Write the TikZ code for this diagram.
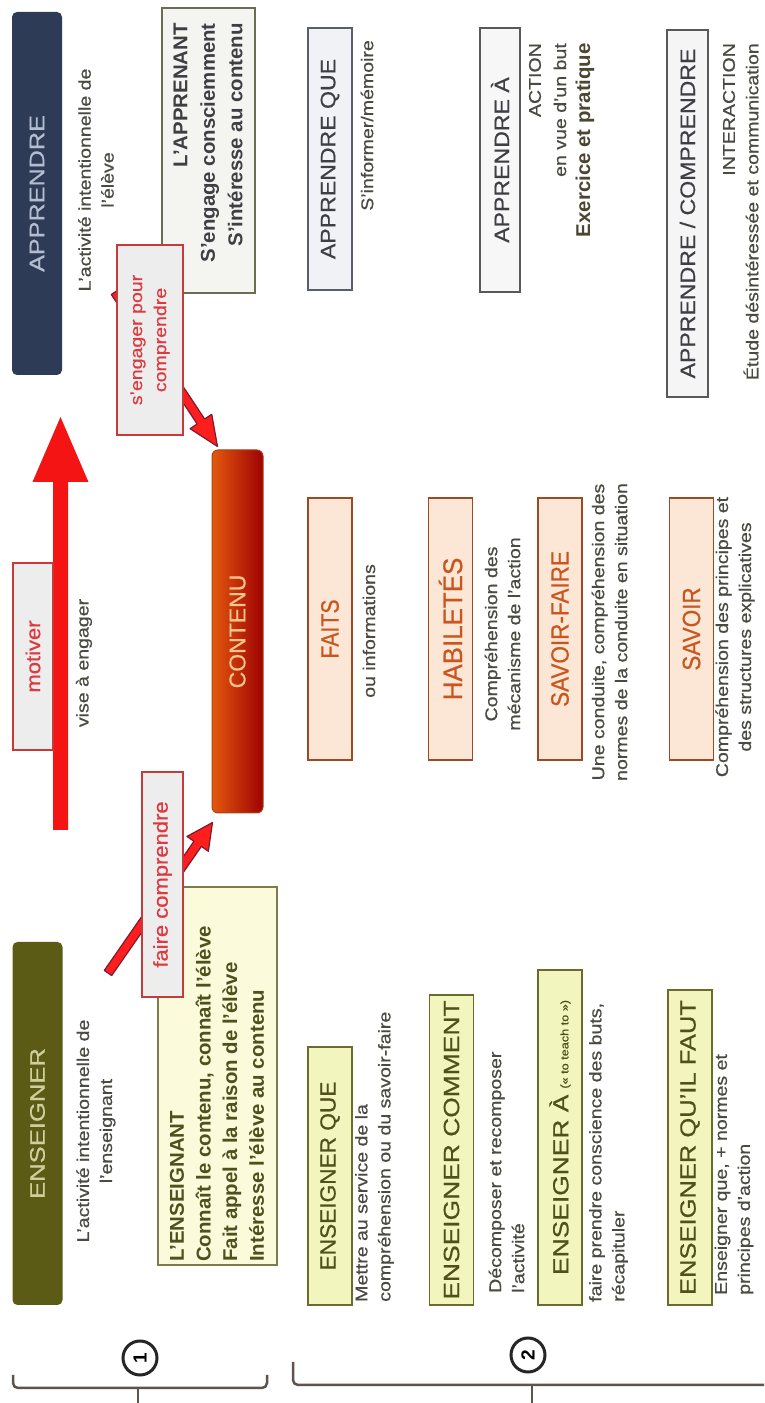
\documentclass[tikz,border=0pt]{standalone}
\usepackage{fontspec}
\usepackage{graphicx}
\setmainfont{Liberation Sans}
\newfontfamily\fh{Liberation Sans}[FakeBold=0.5,Ligatures=TeX]
\newfontfamily\fd{Liberation Sans}[FakeStretch=1.15,FakeBold=0.6,Ligatures=TeX]
\newfontfamily\fbx{Liberation Sans Bold}[FakeStretch=1.02,Ligatures=TeX]
\usetikzlibrary{calc}

% heading text: size, horizontal stretch, text
\newcommand\hd[3]{{\fh\fontsize{#1}{#1}\selectfont\scalebox{#2}[1]{#3}}}
% filled arrow: style, tail, tip, half shaft, half head, head length
\newcommand\thickarrow[6]{%
  \coordinate (ah) at ($(#3)!#6!(#2)$);
  \path[#1] ($(#2)!#4!90:(#3)$) -- ($(ah)!#4!90:(#3)$) -- ($(ah)!#5!90:(#3)$) -- (#3)
    -- ($(ah)!#5!-90:(#3)$) -- ($(ah)!#4!-90:(#3)$) -- ($(#2)!#4!-90:(#3)$) -- cycle;}

\definecolor{ensfill}{HTML}{5B5B16}
\definecolor{enstext}{HTML}{CFCF9C}
\definecolor{appfill}{HTML}{2D3B56}
\definecolor{apptext}{HTML}{B4BDD0}
\definecolor{desccol}{HTML}{4A4A42}
\definecolor{olivetext}{HTML}{4F501C}
\definecolor{yelfill}{HTML}{FBFADB}
\definecolor{yelborder}{HTML}{7C7C4C}
\definecolor{greenfill}{HTML}{F2F5BE}
\definecolor{greenborder}{HTML}{6A6B2C}
\definecolor{peachfill}{HTML}{FCE7D6}
\definecolor{peachborder}{HTML}{9B4A24}
\definecolor{peachtext}{HTML}{C8561E}
\definecolor{greyfill}{HTML}{F1F2F6}
\definecolor{greyborder}{HTML}{5A5E6C}
\definecolor{greytext}{HTML}{3E3E44}
\definecolor{labfill}{HTML}{EDEDED}
\definecolor{labborder}{HTML}{C53A3A}
\definecolor{labtext}{HTML}{DC3A40}
\definecolor{bigred}{HTML}{F41414}
\definecolor{arrred}{HTML}{FF1E1E}
\definecolor{arrdark}{HTML}{7E1A30}
\definecolor{contdark}{HTML}{9E0202}
\definecolor{contorange}{HTML}{E4580E}
\definecolor{contborder}{HTML}{A84418}
\definecolor{conttext}{HTML}{F7C48E}
\definecolor{brk}{HTML}{5E544C}
\definecolor{apprfill}{HTML}{F4F4F1}
\definecolor{apprborder}{HTML}{6C6C50}
\definecolor{practext}{HTML}{4C4630}

\begin{document}
\begin{tikzpicture}[x=1pt,y=1pt,rotate=90,transform shape,
  desc/.style={font=\fd\fontsize{17}{23}\selectfont, text=desccol, inner sep=0pt},
  boxtext/.style={font=\fbx\fontsize{20}{26.7}\selectfont, inner sep=0pt},
  redlab/.style={draw=labborder, fill=labfill, line width=1.5pt, text=labtext, inner sep=0pt},
  ensbox/.style={draw=greenborder, fill=greenfill, line width=1.5pt, text=olivetext, inner sep=0pt, minimum height=44pt},
  savbox/.style={draw=peachborder, fill=peachfill, line width=1.5pt, text=peachtext, inner sep=0pt, minimum height=44pt, minimum width=262pt},
  appbox/.style={draw=greyborder, fill=greyfill, line width=1.5pt, text=greytext, inner sep=0pt},
  topbox/.style={rounded corners=5pt, inner sep=0pt, minimum width=363pt, minimum height=50pt},
  bracestroke/.style={draw=brk, line width=2.5pt, rounded corners=5pt},
  numcirc/.style={circle, draw=black!85, line width=3pt, minimum size=34pt, inner sep=0pt, font=\bfseries\fontsize{19}{19}\selectfont},
  fatred/.style={fill=arrred, draw=arrdark, line width=1.2pt, line join=round}]

\fill[white] (0,0) rectangle (1403,-764);
\useasboundingbox (0,0) rectangle (1403,-764);

% ---- main arrow: motiver ----
\coordinate (mtail) at (573,-60.5);
\coordinate (mtip) at (986,-60.5);
\thickarrow{fill=bigred}{mtail}{mtip}{7.5pt}{28pt}{65pt}

% ---- the two activities ----
\node[topbox, fill=ensfill, text=enstext] (ens) at (279.5,-37.5) {\hd{21}{1.22}{ENSEIGNER}};
\node[topbox, fill=appfill, text=apptext] (app) at (1209.5,-37) {\hd{21}{1.2}{APPRENDRE}};
\node[desc, align=center] (ensd) at (272,-96) {L'activité intentionnelle de\\l'enseignant};
\node[desc, align=center] (appd) at (1223,-96) {L'activité intentionnelle de\\l'élève};
\node[desc] (vise) at (740,-84) {vise à engager};

% ---- teacher / learner ----
\node[draw=yelborder, fill=yelfill, line width=1.5pt, minimum width=378pt, minimum height=119pt] (ensbox) at (327,-217.5) {};
\node[boxtext, text=olivetext, anchor=west, align=left] (enst) at (141,-217) {L'ENSEIGNANT\\Connaît le contenu, connaît l'élève\\Fait appel à la raison de l'élève\\Intéresse l'élève au contenu};
\node[draw=apprborder, fill=apprfill, line width=1.5pt, minimum width=285pt, minimum height=93pt] (appbox) at (1252.5,-208.5) {};
\node[boxtext, text=greytext, anchor=east, align=right, font=\fbx\fontsize{20}{27.5}\selectfont] (appt) at (1380,-208) {L'APPRENANT\\S'engage consciemment\\S'intéresse au contenu};

% ---- content ----
\node[rounded corners=6pt, left color=contorange, right color=contdark, draw=contborder, line width=1pt,
      minimum width=363pt, minimum height=51pt, inner sep=0pt, text=conttext] (contenu) at (771.5,-237.5) {\hd{23}{1.0}{CONTENU}};

% ---- arrows towards the content ----
\coordinate (ftail) at (430,-108);
\coordinate (ftip) at ($(contenu.north west)+(-9,-1)$);
\thickarrow{fatred}{ftail}{ftip}{4.5pt}{13pt}{26pt}
\coordinate (stail) at (1111,-115);
\coordinate (stip) at ($(contenu.north east)+(3,-6)$);
\thickarrow{fatred}{stail}{stip}{4.5pt}{13pt}{30pt}

% ---- red labels ----
\node[redlab, minimum width=187pt, minimum height=40pt] (motiver) at (746.5,-33) {\hd{20}{1.1}{motiver}};
\node[redlab, minimum width=225pt, minimum height=41pt] (faire) at (518.5,-162.5) {\hd{20}{1.1}{faire comprendre}};
\node[redlab, minimum width=190pt, minimum height=66pt, align=center, font=\fd\fontsize{17}{24}\selectfont] (engager) at (1063,-150) {s'engager pour\\comprendre};

% ---- column: enseigner ----
\node[ensbox, minimum width=258pt] (eque) at (227,-330) {\hd{22}{1.03}{ENSEIGNER QUE}};
\node[desc, anchor=west, align=left] (equed) at (101,-374.5) {Mettre au service de la\\compréhension ou du savoir-faire};
\node[ensbox, minimum width=310pt] (ecomment) at (253,-451.5) {\hd{22}{1.2}{ENSEIGNER COMMENT}};
\node[desc, anchor=west, align=left] (ecommentd) at (110,-506.5) {Décomposer et recomposer\\l'activité};
\node[ensbox, minimum width=335pt] (ea) at (265.5,-560) {\hd{22}{1.2}{ENSEIGNER À}\hspace{6pt}\hd{11}{1.15}{(« to teach to »)}};
\node[desc, anchor=west, align=left] (ead) at (101,-608.5) {faire prendre conscience des buts,\\récapituler};
\node[ensbox, minimum width=315pt] (efaut) at (255.5,-690) {\hd{22}{1.16}{ENSEIGNER QU'IL FAUT}};
\node[desc, anchor=west, align=left] (efautd) at (108,-734) {Enseigner que, + normes et\\principes d'action};

% ---- column: contents ----
\node[savbox] (faits) at (774,-330) {\hd{25}{0.85}{FAITS}};
\node[desc] (faitsd) at (772,-369) {ou informations};
\node[savbox] (habil) at (774,-450.5) {\hd{27}{0.96}{HABILETÉS}};
\node[desc, align=center] (habild) at (769,-502.5) {Compréhension des\\mécanisme de l'action};
\node[savbox] (savf) at (774,-560) {\hd{25}{0.9}{SAVOIR-FAIRE}};
\node[desc, align=center] (savfd) at (771,-609.5) {Une conduite, compréhension des\\normes de la conduite en situation};
\node[savbox] (sav) at (774,-691.5) {\hd{25}{0.9}{SAVOIR}};
\node[desc, align=center] (savd) at (766,-735) {Compréhension des principes et\\des structures explicatives};

% ---- column: apprendre ----
\node[appbox, minimum width=262pt, minimum height=44pt] (aque) at (1244,-330) {\hd{21}{1.1}{APPRENDRE QUE}};
\node[desc, anchor=east] (aqued) at (1363,-367) {S'informer/mémoire};
\node[appbox, fill=white!97!black, draw=black!65, minimum width=264pt, minimum height=40pt] (aa) at (1243,-500) {\hd{21}{1.1}{APPRENDRE À}};
\node[desc, anchor=east] (aad1) at (1360,-535) {ACTION};
\node[desc, anchor=east] (aad2) at (1360,-560) {en vue d'un but};
\node[desc, anchor=east, font=\fbx\fontsize{20}{20}\selectfont, text=practext] (aad3) at (1360,-585) {Exercice et pratique};
\node[appbox, fill=white!96!black, draw=black!65, minimum width=367pt, minimum height=41pt] (acomp) at (1189.5,-687.5) {\hd{21}{1.1}{APPRENDRE / COMPRENDRE}};
\node[desc, anchor=east] (acompd1) at (1360,-729) {INTERACTION};
\node[desc, anchor=east] (acompd2) at (1360,-751) {Étude désintéressée et communication};

% ---- braces with their numbers ----
\draw[bracestroke] (28,-13) -- (15,-13) -- (15,-267) -- (28,-267);
\coordinate (b1) at (15,-138);
\draw[bracestroke, rounded corners=0pt] (b1) -- ++(-15,0);
\node[numcirc] (n1) at (45,-140) {1};
\draw[bracestroke] (41,-293) -- (18,-293) -- (18,-764);
\coordinate (b2) at (18,-532);
\draw[bracestroke, rounded corners=0pt] (b2) -- ++(-18,0);
\node[numcirc] (n2) at (48,-528) {2};

\end{tikzpicture}
\end{document}
